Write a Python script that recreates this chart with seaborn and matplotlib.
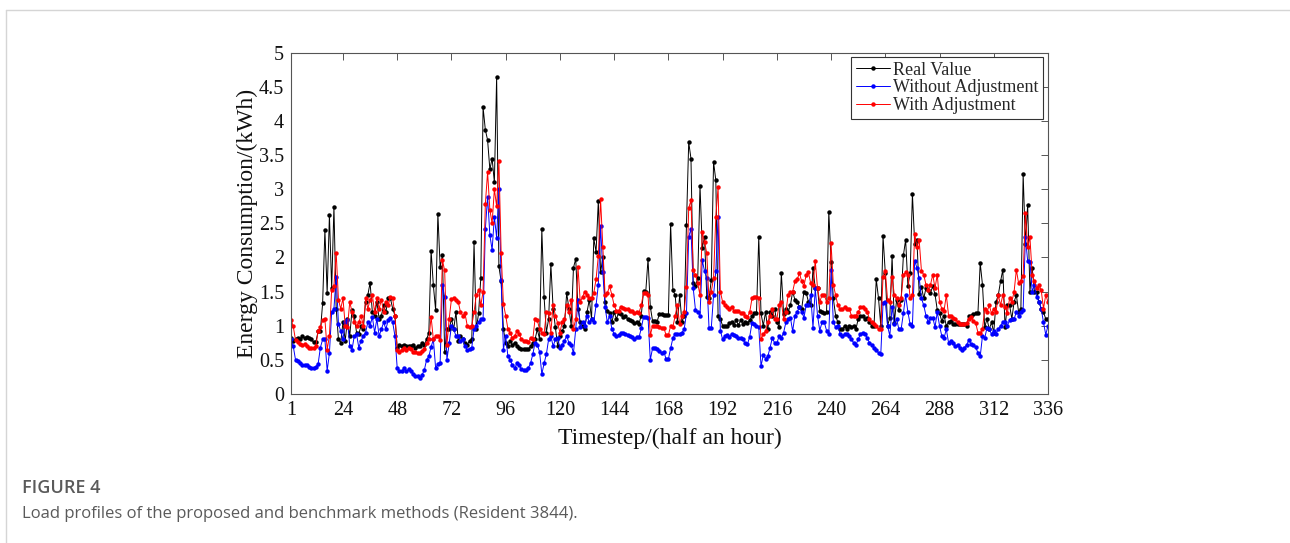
import numpy as np
import pandas as pd
import seaborn as sns
import matplotlib
matplotlib.use("Agg")
import matplotlib.pyplot as plt
from matplotlib.lines import Line2D
from matplotlib.ticker import FuncFormatter

# Half-hourly energy consumption (kWh) for one resident over a week
real_value = [
    0.82, 0.78, 0.80, 0.82, 0.80, 0.85, 0.82, 0.83, 0.82, 0.80, 0.76, 0.76,
    0.92, 0.92, 1.33, 2.40, 1.48, 2.62, 1.55, 2.74, 1.25, 0.80, 0.75, 1.05,
    0.78, 1.10, 0.85, 1.23, 1.15, 0.90, 0.88,
    1.00, 0.95, 1.35, 1.45, 1.63, 1.20, 1.15, 1.35, 1.10, 1.15, 1.30, 1.20,
    1.40, 1.40, 1.25, 1.15, 0.67, 0.72, 0.70, 0.72, 0.70, 0.71, 0.70, 0.72,
    0.68, 0.70, 0.70, 0.75, 0.72, 0.80, 0.90, 2.10, 1.59, 1.23, 2.64, 1.86,
    2.03, 0.62, 0.95, 0.95, 1.10, 0.95, 1.20,
    0.78, 0.85, 0.80, 0.75, 0.72, 0.78, 0.80, 2.22, 0.95, 1.18, 1.70, 4.20,
    3.87, 3.72, 3.29, 3.45, 3.10, 4.65, 1.87, 1.65, 0.95, 0.75, 0.70, 0.78,
    0.72, 0.75, 0.70, 0.68, 0.66, 0.66, 0.66, 0.66, 0.70, 0.75, 0.80, 0.95,
    0.80, 2.41, 1.42, 0.90, 1.10, 1.90, 1.25,
    0.98, 0.70, 0.85, 0.92, 1.00, 1.48, 1.25, 1.00, 1.85, 1.98, 1.25, 1.05,
    1.00, 0.95, 1.20, 1.38, 1.10, 2.28, 2.08, 2.83, 1.78, 2.00, 1.35, 1.22,
    1.18, 1.05, 1.20, 1.10, 1.19, 1.17, 1.13, 1.14, 1.10, 1.09, 1.07, 1.04,
    1.05, 1.03, 1.15, 1.51, 1.50, 1.98, 1.28, 1.07,
    1.07, 1.06, 1.17, 1.17, 1.16, 1.16, 1.16, 2.49, 1.52, 1.45, 1.05, 1.45,
    1.05, 1.15, 2.47, 3.69, 3.45, 1.62, 1.58, 1.70, 3.05, 2.14, 2.30, 1.42,
    1.40, 1.67, 3.40, 3.13, 1.15, 1.10, 1.00, 1.00, 0.99, 1.04, 1.06, 1.01,
    1.08, 1.01, 1.08, 1.03, 1.05, 1.04, 1.08, 1.14, 1.19, 1.19,
    2.30, 1.18, 1.00, 1.20, 0.95, 1.20, 1.15, 1.25, 1.05, 0.98, 1.77, 1.17,
    1.25, 1.20, 1.30, 1.50, 1.38, 1.35, 1.28, 1.25, 1.50, 1.48, 1.35, 1.30,
    1.84, 1.55, 1.55, 1.22, 1.20, 1.18, 1.20, 2.67, 1.94, 1.40, 1.15, 1.05,
    0.95, 0.95, 1.00, 0.95, 1.00, 0.98, 1.00,
    0.95, 1.10, 1.15, 1.15, 1.10, 1.12, 1.05, 1.00, 1.00, 1.68, 1.40, 1.00,
    2.31, 1.77, 1.00, 1.12, 2.02, 1.04, 1.38, 1.23, 1.38, 2.03, 2.26, 1.58,
    1.77, 2.93, 2.20, 2.26, 1.46, 1.57, 1.40, 1.55, 1.52, 1.48, 1.58, 1.46,
    1.23, 1.18, 1.07, 1.15, 1.00, 1.05, 1.07, 1.03, 1.02,
    1.02, 1.03, 1.02, 1.02, 0.99, 1.14, 1.15, 1.17, 1.18, 1.19, 1.92, 1.60,
    0.98, 1.10, 0.95, 1.05, 0.90, 1.35, 1.45, 1.65, 1.82, 0.98, 1.30, 1.30,
    1.10, 1.35, 1.45, 1.20, 1.25, 3.22, 2.20, 2.77, 1.50, 1.85, 1.50, 1.50,
    1.35, 1.25, 1.20, 1.10, 1.10,
]

without_adjustment = [
    0.80, 0.70, 0.50, 0.48, 0.45, 0.43, 0.42, 0.43, 0.39, 0.38, 0.38, 0.40,
    0.44, 0.68, 0.80, 0.80, 0.34, 0.60, 1.20, 1.25, 1.72, 1.03, 0.92, 0.80,
    1.05, 1.08, 0.70, 0.65, 0.85, 0.88, 0.68,
    0.78, 0.85, 0.90, 1.05, 1.00, 1.13, 0.90, 1.10, 0.85, 0.95, 1.05, 0.95,
    1.08, 1.12, 1.05, 0.85, 0.38, 0.34, 0.33, 0.38, 0.33, 0.36, 0.33, 0.30,
    0.27, 0.27, 0.24, 0.28, 0.35, 0.50, 0.55, 0.69, 0.80, 0.38, 0.44, 0.46,
    1.60, 1.42, 0.50, 0.74, 1.00, 0.95, 0.85,
    0.85, 0.78, 0.80, 0.70, 0.65, 0.66, 0.68, 0.95, 1.00, 1.05, 1.10, 1.10,
    2.41, 2.89, 2.33, 2.11, 2.60, 2.29, 3.00, 1.67, 0.65, 0.85, 0.55, 0.50,
    0.42, 0.38, 0.45, 0.42, 0.36, 0.35, 0.35, 0.38, 0.45, 0.58, 0.75, 0.72,
    0.62, 0.29, 0.45, 0.58, 0.80, 0.85, 0.70,
    0.80, 0.82, 0.68, 0.72, 0.78, 0.85, 0.75, 0.72, 0.60, 0.95, 1.38, 0.98,
    1.05, 1.00, 1.15, 1.05, 1.10, 1.05, 1.30, 1.60, 2.46, 1.78, 1.27, 1.05,
    1.15, 0.95, 0.88, 0.85, 0.86, 0.90, 0.90, 0.88, 0.86, 0.85, 0.84, 0.81,
    0.84, 0.83, 0.96, 1.13, 1.13, 1.12, 0.50, 0.67,
    0.67, 0.66, 0.63, 0.60, 0.62, 0.51, 0.51, 0.67, 0.82, 0.88, 0.88, 0.88,
    0.90, 0.95, 1.18, 2.30, 2.42, 1.55, 1.23, 1.20, 1.15, 1.96, 1.80, 1.70,
    0.96, 0.97, 1.45, 1.80, 2.60, 0.93, 0.80, 0.85, 0.86, 0.84, 0.88, 0.86,
    0.85, 0.82, 0.82, 0.80, 0.74, 0.73, 0.84, 1.04, 1.03, 1.00,
    0.98, 0.41, 0.57, 0.52, 0.55, 0.68, 0.82, 0.75, 0.74, 0.85, 0.82, 0.90,
    1.05, 1.10, 1.12, 0.92, 1.15, 1.20, 1.28, 1.20, 1.12, 1.30, 1.30, 1.45,
    0.97, 1.55, 1.15, 0.93, 1.05, 1.05, 0.93, 0.88, 1.81, 1.05, 0.98, 1.00,
    0.88, 0.85, 0.88, 0.88, 0.85, 0.80, 0.75,
    0.72, 0.80, 0.88, 0.90, 0.88, 0.82, 0.75, 0.72, 0.68, 0.65, 0.60, 0.58,
    1.33, 1.35, 1.00, 0.85, 1.28, 1.02, 1.10, 0.95, 0.95, 1.18, 1.45, 1.20,
    1.02, 1.00, 1.95, 1.85, 1.70, 1.40, 1.30, 1.15, 1.05, 1.12, 1.12, 0.98,
    1.20, 1.00, 0.85, 0.82, 0.95, 0.75, 0.78, 0.75, 0.70,
    0.72, 0.67, 0.65, 0.68, 0.72, 0.79, 0.73, 0.72, 0.69, 0.60, 0.55, 0.85,
    0.82, 0.97, 0.95, 0.88, 0.92, 0.88, 0.95, 1.00, 1.05, 1.05, 1.00, 1.08,
    1.10, 1.10, 1.20, 1.15, 1.20, 1.23, 2.30, 1.95, 1.94, 1.50, 1.60, 1.42,
    1.35, 1.25, 1.05, 0.87, 1.00,
]

with_adjustment = [
    1.09, 0.99, 0.79, 0.76, 0.73, 0.72, 0.73, 0.70, 0.68, 0.68, 0.68, 0.70,
    0.92, 0.98, 1.08, 1.10, 0.65, 0.85, 1.53, 1.58, 2.07, 1.38, 1.25, 1.40,
    1.00, 0.98, 1.35, 1.20, 1.05, 1.00, 1.05,
    1.15, 1.00, 1.40, 1.25, 1.38, 1.45, 1.20, 1.40, 1.25, 1.38, 1.20, 1.35,
    1.30, 1.42, 1.40, 1.15, 0.65, 0.62, 0.65, 0.68, 0.64, 0.67, 0.66, 0.62,
    0.62, 0.60, 0.60, 0.63, 0.66, 0.75, 0.80, 1.13, 0.80, 0.85, 0.85, 0.79,
    1.96, 1.81, 0.72, 1.10, 1.39, 1.40, 1.38,
    1.35, 1.20, 1.15, 1.18, 1.00, 0.98, 1.00, 1.20, 1.45, 1.52, 1.30, 1.50,
    2.78, 3.25, 2.70, 2.50, 3.00, 2.75, 3.42, 2.07, 1.32, 1.15, 0.95, 0.90,
    0.82, 0.85, 0.92, 0.88, 0.80, 0.78, 0.78, 0.76, 0.82, 0.80, 1.10, 1.08,
    0.95, 0.90, 0.88, 1.20, 1.18, 0.90, 1.31,
    1.15, 1.04, 0.90, 1.05, 1.10, 1.30, 1.20, 1.38, 0.95, 1.10, 1.86, 1.35,
    1.42, 1.50, 1.45, 1.40, 1.40, 1.48, 1.68, 2.02, 2.85, 2.16, 1.45, 1.48,
    1.58, 1.45, 1.30, 1.22, 1.22, 1.28, 1.26, 1.25, 1.24, 1.21, 1.21, 1.18,
    1.20, 1.19, 1.30, 1.48, 1.48, 1.45, 0.86, 1.00,
    1.00, 0.99, 0.98, 0.97, 0.97, 0.86, 0.86, 1.00, 0.98, 1.15, 1.30, 1.02,
    1.15, 1.20, 1.57, 2.72, 2.84, 1.81, 1.75, 1.62, 1.45, 2.37, 2.23, 2.06,
    1.35, 1.50, 1.70, 2.60, 3.03, 1.50, 1.35, 1.30, 1.28, 1.25, 1.28, 1.22,
    1.21, 1.21, 1.19, 1.18, 1.14, 1.13, 1.20, 1.40, 1.42, 1.42,
    1.40, 0.80, 0.88, 0.92, 1.05, 1.15, 1.25, 1.10, 1.10, 1.30, 1.35, 1.10,
    1.20, 1.45, 1.50, 1.50, 1.65, 1.68, 1.77, 1.65, 1.58, 1.75, 1.78, 1.62,
    1.60, 1.95, 1.55, 1.35, 1.45, 1.45, 1.35, 1.40, 2.21, 1.60, 1.45, 1.30,
    1.25, 1.25, 1.27, 1.25, 1.25, 1.15, 1.15,
    1.15, 1.20, 1.27, 1.28, 1.25, 1.20, 1.10, 1.05, 1.02, 1.00, 0.95, 0.95,
    1.72, 1.80, 1.38, 1.35, 1.72, 1.45, 1.40, 1.30, 1.40, 1.75, 1.78, 1.75,
    1.40, 1.45, 2.35, 2.15, 2.25, 1.80, 1.75, 1.60, 1.52, 1.60, 1.75, 1.55,
    1.75, 1.35, 1.25, 1.22, 1.45, 1.15, 1.15, 1.12, 1.10,
    1.05, 1.03, 1.02, 1.03, 1.04, 1.10, 1.13, 1.07, 1.04, 0.90, 0.89, 0.95,
    1.25, 1.20, 1.30, 1.18, 1.25, 1.20, 1.45, 1.30, 1.45, 1.28, 1.18, 1.40,
    1.35, 1.50, 1.82, 1.62, 1.65, 1.73, 2.65, 2.15, 2.30, 1.75, 1.65, 1.55,
    1.60, 1.52, 1.25, 1.45, 1.35,
]

series_names = ["Real Value", "Without Adjustment", "With Adjustment"]
series_colors = ["#000000", "#0000ff", "#ff0000"]
x_ticks = [1, 24, 48, 72, 96, 120, 144, 168, 192, 216, 240, 264, 288, 312, 336]
y_ticks = [0, 0.5, 1, 1.5, 2, 2.5, 3, 3.5, 4, 4.5, 5]

timestep = np.arange(1, len(real_value) + 1)
assert len(real_value) == len(without_adjustment) == len(with_adjustment) == 336

df = pd.DataFrame({
    "Timestep": np.tile(timestep, 3),
    "Energy": np.concatenate([real_value, without_adjustment, with_adjustment]),
    "Series": np.repeat(series_names, len(timestep)),
})

sns.set_theme(style="white")
plt.rcParams["font.family"] = ["Liberation Serif", "DejaVu Serif"]
plt.rcParams["mathtext.fontset"] = "stix"

W, H = 1290, 543
fig = plt.figure(figsize=(W / 100, H / 100), dpi=100)
fig.patch.set_facecolor("white")

ax_left, ax_right, ax_top, ax_bottom = 291, 1048, 52.7, 394
ax = fig.add_axes([ax_left / W, 1 - ax_bottom / H,
                   (ax_right - ax_left) / W, (ax_bottom - ax_top) / H])

for name, color in zip(series_names, series_colors):
    sub = df[df["Series"] == name]
    sns.lineplot(data=sub, x="Timestep", y="Energy", ax=ax, color=color,
                 linewidth=0.7, marker="o", markersize=3.2,
                 markeredgewidth=0, markerfacecolor=color,
                 label=name, legend=False)

ax.set_xlim(1, 336)
ax.set_ylim(0, 5)
ax.set_xticks(x_ticks)
ax.set_yticks(y_ticks)
ax.yaxis.set_major_formatter(FuncFormatter(lambda v, p: f"{v:g}"))

for side in ["left", "right", "top", "bottom"]:
    ax.spines[side].set_visible(True)
    ax.spines[side].set_color("#555555")
    ax.spines[side].set_linewidth(0.8)

ax.tick_params(axis="both", which="major", direction="in", length=5,
               width=0.7, color="#555555", top=True, right=True,
               labelsize=14.5, labelcolor="#111111")
ax.tick_params(axis="x", pad=5)
ax.tick_params(axis="y", pad=5)

ax.set_xlabel("Timestep/(half an hour)", fontsize=17, color="#111111")
ax.set_ylabel("Energy Consumption/(kWh)", fontsize=17, color="#111111")
ax.xaxis.set_label_coords(0.5, (ax_bottom - 438) / (ax_bottom - ax_top))
ax.yaxis.set_label_coords((247 - ax_left) / (ax_right - ax_left), 0.5)
ax.xaxis.label.set_va("center")
ax.yaxis.label.set_va("center")

handles = [Line2D([0], [0], color=c, linewidth=0.7, marker="o", markersize=3.2,
                  markeredgewidth=0) for c in series_colors]
leg = ax.legend(handles, series_names, loc="upper right",
                bbox_to_anchor=((1043 - ax_left) / (ax_right - ax_left),
                                (ax_bottom - 57) / (ax_bottom - ax_top)),
                borderaxespad=0, fancybox=False, framealpha=1,
                edgecolor="#333333", fontsize=13, handlelength=1.9,
                handletextpad=0.15, labelspacing=0.05, borderpad=0.25)
leg.get_frame().set_linewidth(0.8)

# Page frame and caption
fig.add_artist(Line2D([6 / W, 1.0], [1 - 10 / H, 1 - 10 / H],
                      color="#d5d5d5", linewidth=1.0))
fig.add_artist(Line2D([6 / W, 6 / W], [1 - 10 / H, 0.0],
                      color="#d5d5d5", linewidth=1.0))
fig.text(22 / W, 1 - 488 / H, "FIGURE 4", fontsize=13, color="#5a5a5a",
         family=["Open Sans", "DejaVu Sans"], fontweight="semibold", va="center")
fig.text(22 / W, 1 - 514 / H,
         "Load profiles of the proposed and benchmark methods (Resident 3844).",
         fontsize=12, color="#5a5a5a", family=["Open Sans", "DejaVu Sans"],
         va="center")

fig.savefig("out.png", dpi=100, facecolor="white")
